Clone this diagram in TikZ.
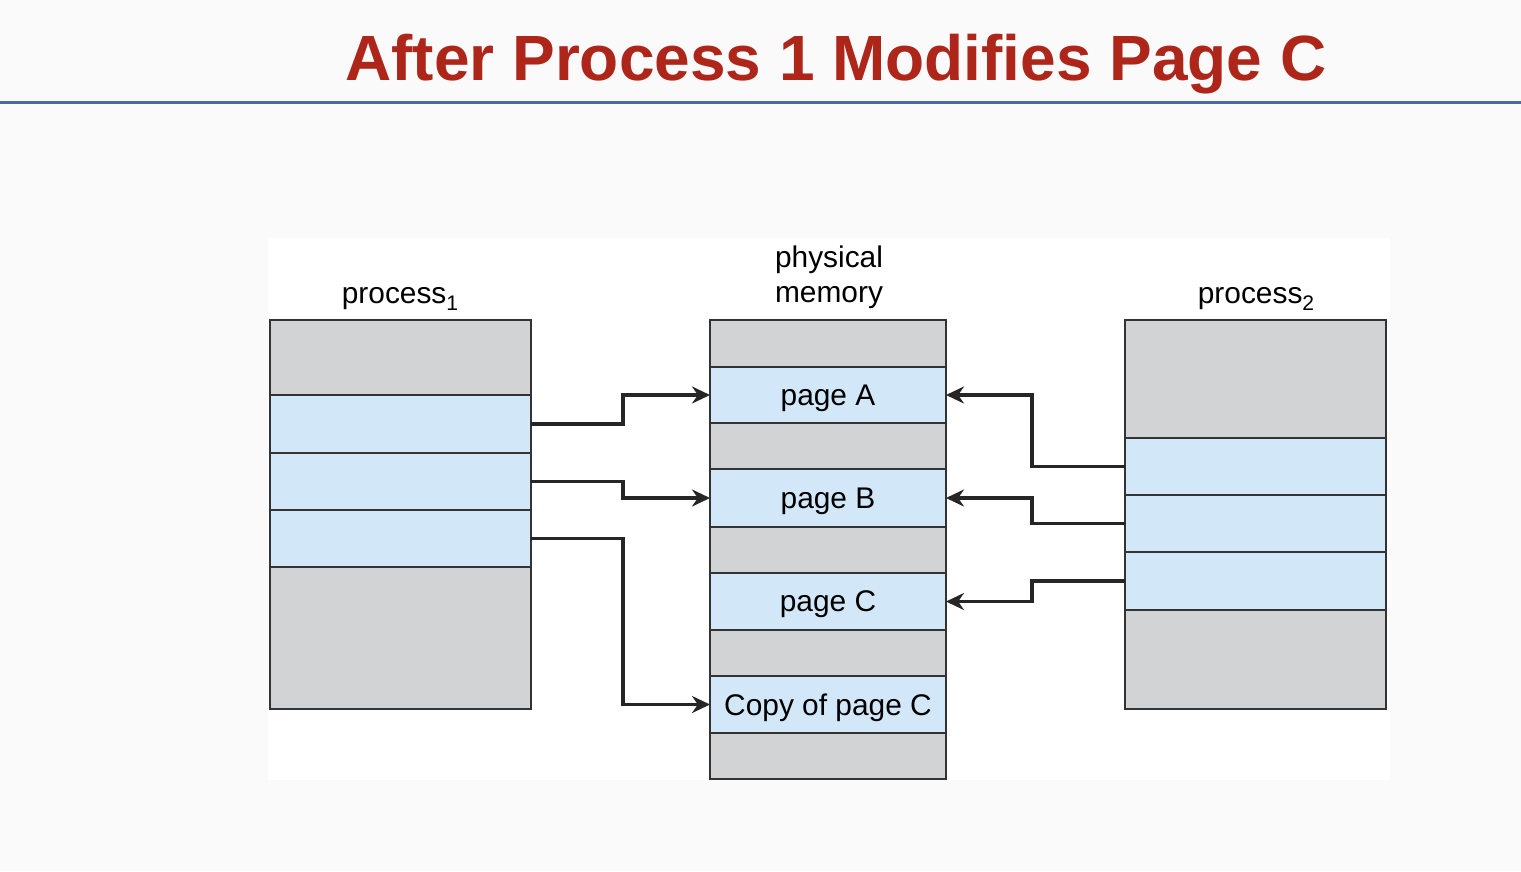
\documentclass[tikz,border=0pt]{standalone}
\usepackage{fontspec}
\setmainfont{Liberation Sans}
\usepackage{xcolor}
\usetikzlibrary{positioning, arrows.meta}
\definecolor{titlered}{HTML}{AE2519}
\definecolor{ruleblue}{HTML}{4A6A9E}
\definecolor{pagegray}{HTML}{D1D3D4}
\definecolor{pageblue}{HTML}{D2E8F8}
\newcommand{\lowsub}[1]{\raisebox{-0.45ex}{\fontsize{6}{6}\selectfont #1}}

\begin{document}
\begin{tikzpicture}[
    node distance=0pt,
    every node/.style={align=center, font=\fontsize{8.5}{10}\selectfont},
    cell/.style={rectangle, draw=black!80, line width=0.4pt, inner sep=0pt, outer sep=0pt, text depth=0pt},
    gcell/.style={cell, fill=pagegray},
    bcell/.style={cell, fill=pageblue},
    proc/.style={minimum width=2.61cm},
    mem/.style={minimum width=2.36cm},
    link/.style={-{Stealth[length=1.8mm, width=1.7mm]}, line width=0.95pt, black!85}
]
    % slide background, title and rule
    \fill[gray!4] (0,0) rectangle (15.21,-8.71);
    \useasboundingbox (0,0) rectangle (15.21,-8.71);
    \fill[white] (2.68,-2.38) rectangle (13.90,-7.80);
    \node[font=\bfseries\fontsize{18.2}{20}\selectfont, text=titlered, anchor=base] (title) at (8.36,-0.80) {After Process 1 Modifies Page C};
    \draw[ruleblue, line width=0.85pt] (0,-1.02) -- (15.21,-1.02);

    % column headings
    \node[anchor=base] (lbl1) at (4.00,-3.03) {process\lowsub{1}};
    \node[anchor=south, inner sep=0pt] (lblmem) at (8.29,-3.095) {physical\\memory};
    \node[anchor=base] (lbl2) at (12.56,-3.03) {process\lowsub{2}};

    % process 1
    \node[gcell, proc, minimum height=0.75cm, anchor=north west] (p1top) at (2.70,-3.20) {};
    \node[bcell, proc, minimum height=0.58cm, below=of p1top] (p1a) {};
    \node[bcell, proc, minimum height=0.57cm, below=of p1a] (p1b) {};
    \node[bcell, proc, minimum height=0.57cm, below=of p1b] (p1c) {};
    \node[gcell, proc, minimum height=1.42cm, below=of p1c] (p1bot) {};

    % physical memory
    \node[gcell, mem, minimum height=0.47cm, anchor=north west] (m0) at (7.10,-3.20) {};
    \node[bcell, mem, minimum height=0.56cm, below=of m0] (pga) {page A};
    \node[gcell, mem, minimum height=0.46cm, below=of pga] (m1) {};
    \node[bcell, mem, minimum height=0.58cm, below=of m1] (pgb) {page B};
    \node[gcell, mem, minimum height=0.46cm, below=of pgb] (m2) {};
    \node[bcell, mem, minimum height=0.57cm, below=of m2] (pgc) {page C};
    \node[gcell, mem, minimum height=0.46cm, below=of pgc] (m3) {};
    \node[bcell, mem, minimum height=0.57cm, below=of m3] (pgcopy) {Copy of page C};
    \node[gcell, mem, minimum height=0.46cm, below=of pgcopy] (m4) {};

    % process 2
    \node[gcell, proc, minimum height=1.18cm, anchor=north west] (p2top) at (11.25,-3.20) {};
    \node[bcell, proc, minimum height=0.57cm, below=of p2top] (p2a) {};
    \node[bcell, proc, minimum height=0.57cm, below=of p2a] (p2b) {};
    \node[bcell, proc, minimum height=0.58cm, below=of p2b] (p2c) {};
    \node[gcell, proc, minimum height=0.99cm, below=of p2c] (p2bot) {};

    % page table mappings
    \draw[link] (p1a.east) -- ++(0.92,0) |- (pga.west);
    \draw[link] (p1b.east) -- ++(0.92,0) |- (pgb.west);
    \draw[link] (p1c.east) -- ++(0.92,0) |- (pgcopy.west);
    \draw[link] (p2a.west) -- ++(-0.93,0) |- (pga.east);
    \draw[link] (p2b.west) -- ++(-0.93,0) |- (pgb.east);
    \draw[link] (p2c.west) -- ++(-0.93,0) |- (pgc.east);
\end{tikzpicture}
\end{document}
